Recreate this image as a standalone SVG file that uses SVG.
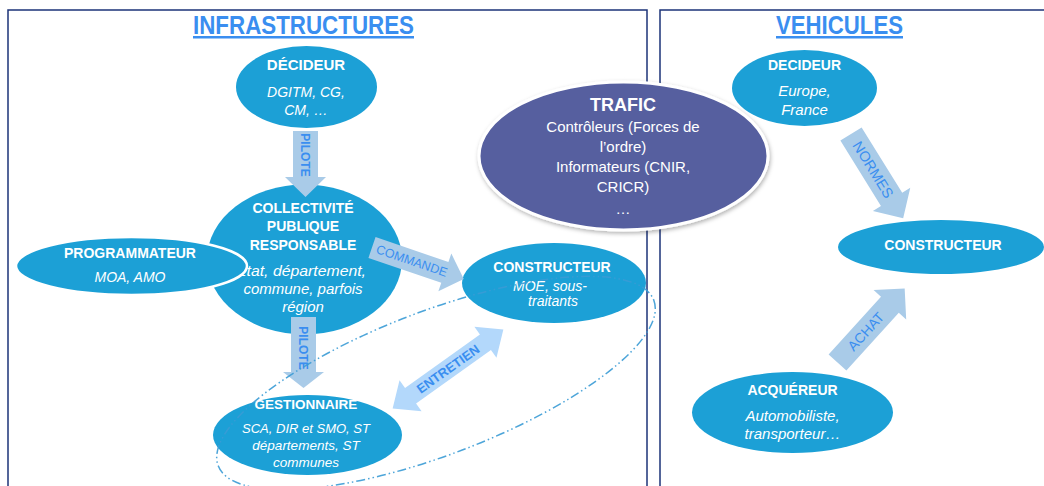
<svg xmlns="http://www.w3.org/2000/svg" width="1044" height="486" viewBox="0 0 1044 486">
<defs>
<style>
.panel{fill:#fff;stroke:#1c3378;stroke-width:1.5}
.title{font-family:"Liberation Sans",Arial,sans-serif;font-weight:bold;font-size:25px;fill:#3a8ef0;text-decoration:underline}
.node{fill:#1ca0d6}
.t{font-family:"Liberation Sans",Arial,sans-serif;fill:#fff;text-anchor:middle}
.b{font-weight:bold;font-size:14px}
.i{font-style:italic;font-size:14px}
.arr{fill:#a9cbe8}
.arr2{fill:#b3d8fb}
.lbl{font-family:"Liberation Sans",Arial,sans-serif;fill:#3a8ef0;text-anchor:middle;font-size:12px}
</style>
<filter id="sh" x="-10%" y="-10%" width="125%" height="135%">
<feDropShadow dx="1" dy="2" stdDeviation="2" flood-color="#000" flood-opacity="0.3"/>
</filter>
</defs>

<g id="panels">
<rect class="panel" x="8" y="10" width="639" height="500"/>
<rect class="panel" x="660" y="10" width="400" height="500"/>
<text class="title" x="303.5" y="34" text-anchor="middle" textLength="221" lengthAdjust="spacingAndGlyphs">INFRASTRUCTURES</text>
<text class="title" x="839.5" y="34" text-anchor="middle" textLength="127" lengthAdjust="spacingAndGlyphs">VEHICULES</text>
</g>

<g id="decideur-infra">
<ellipse class="node" cx="306.5" cy="87" rx="70.5" ry="41"/>
<text class="t b" x="306" y="70" style="font-size:15px">DÉCIDEUR</text>
<text class="t i" x="306" y="97">DGITM, CG,</text>
<text class="t i" x="306" y="115">CM, …</text>
</g>

<g id="collectivite">
<ellipse class="node" cx="304.5" cy="259.5" rx="97.5" ry="75"/>
<text class="t b" x="303" y="213">COLLECTIVITÉ</text>
<text class="t b" x="303" y="231">PUBLIQUE</text>
<text class="t b" x="303" y="250">RESPONSABLE</text>
<text class="t i" x="301" y="276" style="font-size:15px" textLength="130" lengthAdjust="spacingAndGlyphs">État, département,</text>
<text class="t i" x="303" y="294" style="font-size:15px">commune, parfois</text>
<text class="t i" x="303" y="312" style="font-size:15px">région</text>
</g>

<g id="programmateur">
<ellipse class="node" cx="131.5" cy="266" rx="115.5" ry="29" stroke="#fff" stroke-width="2.5"/>
<text class="t b" x="130" y="258">PROGRAMMATEUR</text>
<text class="t i" x="130" y="282">MOA, AMO</text>
</g>

<g id="constructeur-infra">
<ellipse class="node" cx="554" cy="283" rx="92" ry="40"/>
<text class="t b" x="552" y="272">CONSTRUCTEUR</text>
<text class="t i" x="550" y="291">MOE, sous-</text>
<text class="t i" x="553" y="306">traitants</text>
</g>

<g id="gestionnaire">
<ellipse class="node" cx="307.5" cy="435" rx="94.5" ry="40"/>
<text class="t b" x="306" y="409" style="font-size:13.5px">GESTIONNAIRE</text>
<text class="t i" x="306" y="433" style="font-size:13px">SCA, DIR et SMO, ST</text>
<text class="t i" x="306" y="450" style="font-size:13.5px">départements, ST</text>
<text class="t i" x="306" y="467" style="font-size:13.5px">communes</text>
</g>

<g id="trafic">
<ellipse cx="623.5" cy="156" rx="144.5" ry="74" fill="#565e9f" stroke="#fff" stroke-width="3" filter="url(#sh)"/>
<text class="t" x="623" y="111" style="font-size:18px;font-weight:bold">TRAFIC</text>
<text class="t" x="623" y="132" style="font-size:15px">Contrôleurs (Forces de</text>
<text class="t" x="623" y="152" style="font-size:15px">l’ordre)</text>
<text class="t" x="623" y="172" style="font-size:15px">Informateurs (CNIR,</text>
<text class="t" x="623" y="192" style="font-size:15px">CRICR)</text>
<text class="t" x="623" y="214" style="font-size:15px">…</text>
</g>

<g id="decideur-veh">
<ellipse class="node" cx="804.5" cy="88" rx="72.5" ry="38"/>
<text class="t b" x="804.5" y="70">DECIDEUR</text>
<text class="t i" x="804.5" y="96" style="font-size:15px">Europe,</text>
<text class="t i" x="804.5" y="115" style="font-size:15px">France</text>
</g>

<g id="constructeur-veh">
<ellipse class="node" cx="941" cy="247" rx="103" ry="27"/>
<text class="t b" x="943" y="250">CONSTRUCTEUR</text>
</g>

<g id="acquereur">
<ellipse class="node" cx="792.5" cy="412.5" rx="100.5" ry="40.5"/>
<text class="t b" x="792.5" y="395">ACQUÉREUR</text>
<text class="t i" x="792.5" y="421" style="font-size:15px">Automobiliste,</text>
<text class="t i" x="792.5" y="439" style="font-size:15px">transporteur…</text>
</g>

<g id="connectors">
<polygon class="arr" points="293,131 318,131 318,177 326,177 305.5,197 285,177 293,177"/>
<text class="lbl" transform="translate(305,155) rotate(90)" y="4" style="font-weight:bold">PILOTE</text>

<polygon class="arr" points="291,317 316,317 316,372 324,372 303.5,388 283,372 291,372"/>
<text class="lbl" transform="translate(303,348) rotate(90)" y="4" style="font-weight:bold">PILOTE</text>

<g transform="translate(372,247.5) rotate(18.9)">
<polygon class="arr" points="0,-11 77,-11 77,-20 97,0 77,20 77,11 0,11"/>
<text class="lbl" x="42" y="4" style="font-size:12.5px">COMMANDE</text>
</g>

<g transform="translate(448,369) rotate(-35.5)">
<polygon class="arr2" points="-68,0 -46,-19 -46,-9.5 46,-9.5 46,-19 68,0 46,19 46,9.5 -46,9.5 -46,19"/>
<text class="lbl" x="0" y="4.5" style="font-weight:bold;font-size:13px">ENTRETIEN</text>
</g>

<g transform="translate(851,134) rotate(58.2)">
<polygon class="arr" points="0,-12.5 77,-12.5 77,-22 99,0 77,22 77,12.5 0,12.5"/>
<text class="lbl" x="42" y="5" style="font-size:14.5px">NORMES</text>
</g>

<g transform="translate(837.5,362.5) rotate(-47.8)">
<polygon class="arr" points="0,-12 78,-12 78,-22 100,0 78,22 78,12 0,12"/>
<text class="lbl" x="42" y="5" style="font-size:14px">ACHAT</text>
</g>

<ellipse cx="436" cy="383" rx="233" ry="72" transform="rotate(-20.8 436 383)" fill="none" stroke="#3a9bd5" stroke-width="1.5" stroke-dasharray="9 3 1.5 3 1.5 3" opacity="0.9"/>
</g>
</svg>
